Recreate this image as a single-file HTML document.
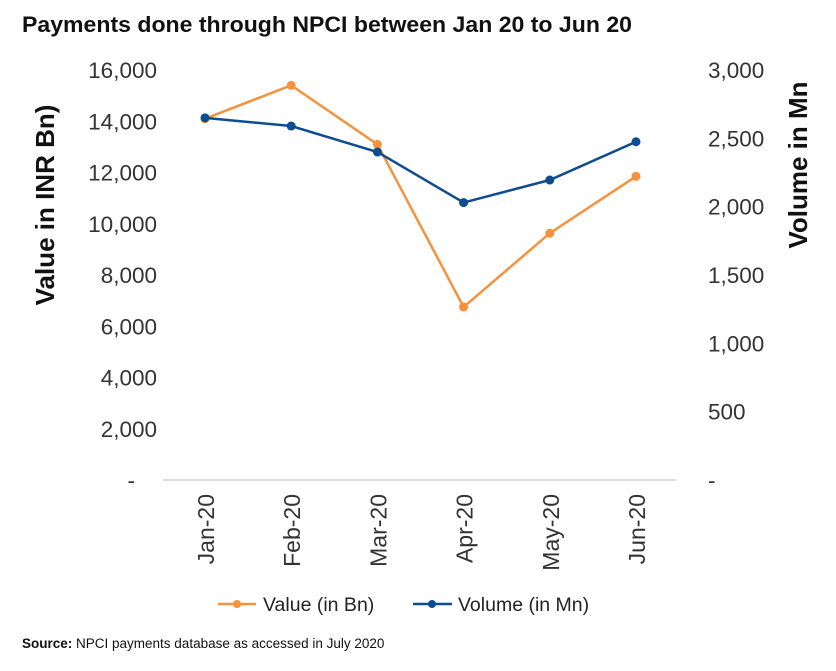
<!DOCTYPE html>
<html><head><meta charset="utf-8"><style>
body{margin:0;background:#fff;font-family:"Liberation Sans",sans-serif;}
</style></head><body>
<svg width="836" height="666" viewBox="0 0 836 666" xmlns="http://www.w3.org/2000/svg" font-family="Liberation Sans, sans-serif">
<text x="22" y="32" font-size="22" font-weight="bold" fill="#111" textLength="610" lengthAdjust="spacingAndGlyphs">Payments done through NPCI between Jan 20 to Jun 20</text>
<text transform="translate(54,205) rotate(-90)" text-anchor="middle" font-size="26" font-weight="bold" fill="#111">Value in INR Bn)</text>
<text transform="translate(807,165) rotate(-90)" text-anchor="middle" font-size="26" font-weight="bold" fill="#111">Volume in Mn</text>
<line x1="163" y1="480" x2="676" y2="480" stroke="#bbb" stroke-width="1"/>
<g id="lt"></g><g id="rt"></g><g id="xt"></g><g id="lines"></g>
<g>
<line x1="218" y1="604" x2="256" y2="604" stroke="#F6923D" stroke-width="2.5"/><circle cx="237" cy="604" r="4" fill="#F6923D"/>
<text x="263" y="611" font-size="19.5" fill="#222">Value (in Bn)</text>
<line x1="413" y1="604" x2="452" y2="604" stroke="#0E4C92" stroke-width="2.5"/><circle cx="432" cy="604" r="4" fill="#0E4C92"/>
<text x="458" y="611" font-size="19.5" fill="#222">Volume (in Mn)</text>
</g>
<text x="22" y="648" font-size="13.5" fill="#111"><tspan font-weight="bold">Source:</tspan> NPCI payments database as accessed in July 2020</text>
</svg>
<script>
const categories=["Jan-20","Feb-20","Mar-20","Apr-20","May-20","Jun-20"];
const valueSeries=[14100,15400,13100,6750,9630,11850];
const volumeSeries=[2650,2590,2400,2030,2195,2475];
const leftTicks=[0,2000,4000,6000,8000,10000,12000,14000,16000];
const rightTicks=[0,500,1000,1500,2000,2500,3000];
const NS="http://www.w3.org/2000/svg";
const yL=v=>480-v*(410/16000);
const yR=v=>480-v*(410/3000);
const xS=i=>205+i*86.2;
const fmt=v=>v===0?"-":v.toLocaleString("en-US");
function mk(tag,attrs,parent,text){const e=document.createElementNS(NS,tag);for(const k in attrs)e.setAttribute(k,attrs[k]);if(text!==undefined)e.textContent=text;parent.appendChild(e);return e;}
const lt=document.getElementById("lt"),rt=document.getElementById("rt"),xt=document.getElementById("xt"),lines=document.getElementById("lines");
leftTicks.forEach(v=>{const t=mk("text",{x:v===0?135:157,y:yL(v)+8,"text-anchor":"end","font-size":"22.5",fill:"#333"},lt,fmt(v));

});
rightTicks.forEach(v=>{const t=mk("text",{x:708,y:yR(v)+8,"text-anchor":"start","font-size":"22.5",fill:"#333"},rt,fmt(v));

});
categories.forEach((c,i)=>{const t=mk("text",{transform:`translate(${xS(i)+9},494) rotate(-90)`,"text-anchor":"end","font-size":"23",fill:"#333"},xt,c);

});
function series(data,yf,color,name){
 const p=mk("polyline",{points:data.map((v,i)=>xS(i)+","+yf(v)).join(" "),fill:"none",stroke:color,"stroke-width":"2.5"},lines);
 
 
 data.forEach((v,i)=>{const c=mk("circle",{cx:xS(i),cy:yf(v),r:4.5,fill:color},lines);
 
 });
}
series(valueSeries,yL,"#F6923D","value");
series(volumeSeries,yR,"#0E4C92","volume");
</script>
</body></html>
